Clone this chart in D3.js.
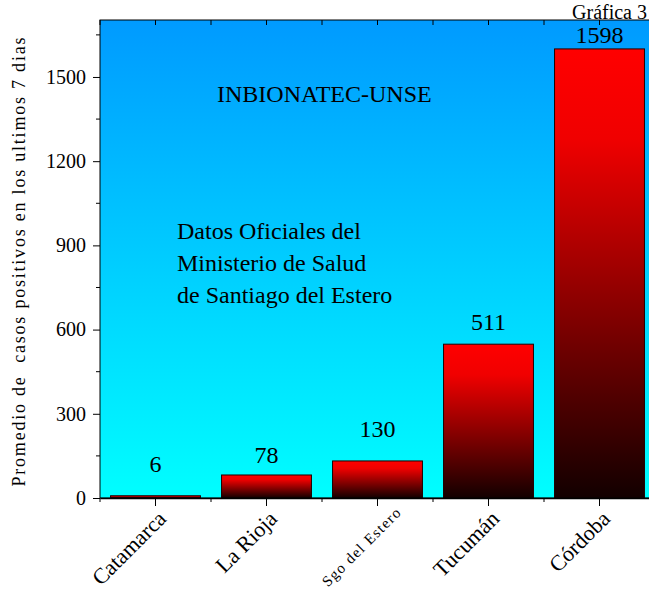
<!DOCTYPE html>
<meta charset="utf-8">
<style>
  body { margin: 0; background: white; }
  svg text { font-family: "Liberation Serif", "Times New Roman", serif; fill: black; }
  .axis path, .axis line { stroke: black; }
</style>
<script src="https://d3js.org/d3.v7.min.js"></script>
<div id="chart"></div>
<script>
// data
const provinces = ["Catamarca", "La Rioja", "Sgo del Estero", "Tucumán", "Córdoba"];
const barValues = [8, 82, 132, 548, 1600];
const valueLabels = ["6", "78", "130", "511", "1598"];
const labelAt = [93, 125, 217, 598, 1621];   // where each number sits, in data units
const yTicks = [0, 300, 600, 900, 1200, 1500];

const W = 649, H = 592;
const plotL = 100, plotR = 655, plotT = 20, plotB = 498;
const serif = "Liberation Serif, Times New Roman, serif";

const svg = d3.select("#chart").append("svg")
    .attr("width", W).attr("height", H);

const defs = svg.append("defs");
const bg = defs.append("linearGradient").attr("id", "bg")
    .attr("x1", 0).attr("y1", 0).attr("x2", 0).attr("y2", 1);
bg.append("stop").attr("offset", "0%").attr("stop-color", "#009aff");
bg.append("stop").attr("offset", "100%").attr("stop-color", "#00ffff");

const barGrad = defs.append("linearGradient").attr("id", "bargrad")
    .attr("x1", 0).attr("y1", 0).attr("x2", 0).attr("y2", 1);
barGrad.append("stop").attr("offset", "0%").attr("stop-color", "#ff0000");
barGrad.append("stop").attr("offset", "20%").attr("stop-color", "#f00000");
barGrad.append("stop").attr("offset", "100%").attr("stop-color", "#120000");

const x = d3.scaleBand()
    .domain(provinces)
    .range([plotL, plotR])
    .paddingInner(0.19)
    .paddingOuter(0.095);

const y = d3.scaleLinear()
    .domain([0, 1703])
    .range([plotB, plotT]);

// plot background
svg.append("rect")
    .attr("x", plotL).attr("y", plotT)
    .attr("width", plotR - plotL).attr("height", plotB - plotT)
    .attr("fill", "url(#bg)");

// bars
svg.append("g").selectAll("rect")
  .data(provinces)
  .join("rect")
    .attr("x", d => x(d))
    .attr("y", (d, i) => y(barValues[i]))
    .attr("width", x.bandwidth())
    .attr("height", (d, i) => y(0) - y(barValues[i]))
    .attr("fill", "url(#bargrad)")
    .attr("stroke", "#200000")
    .attr("stroke-width", 1);

// value labels
svg.append("g").selectAll("text")
  .data(provinces)
  .join("text")
    .attr("x", d => x(d) + x.bandwidth() / 2)
    .attr("y", (d, i) => y(labelAt[i]))
    .attr("text-anchor", "middle")
    .style("font-family", serif)
    .style("font-size", "24px")
    .text((d, i) => valueLabels[i]);

// frame
svg.append("rect")
    .attr("x", plotL).attr("y", plotT)
    .attr("width", plotR - plotL).attr("height", plotB - plotT)
    .attr("fill", "none").attr("stroke", "black").attr("stroke-width", 1);

// y axis
const yAxis = svg.append("g")
    .attr("class", "axis")
    .attr("transform", `translate(${plotL},0)`)
    .call(d3.axisLeft(y).tickValues(yTicks).tickFormat(d3.format("d"))
        .tickSize(7).tickPadding(7).tickSizeOuter(0));
yAxis.select(".domain").remove();
yAxis.selectAll("text").style("font-size", "20px").style("font-family", serif);
// minor y ticks
svg.append("g").selectAll("line")
  .data(yTicks.map(v => v + 150))
  .join("line")
    .attr("x1", plotL - 4).attr("x2", plotL)
    .attr("y1", d => y(d)).attr("y2", d => y(d))
    .attr("stroke", "black");

// x axis
const centers = provinces.map(p => x(p) + x.bandwidth() / 2);
const edges = [plotL].concat(provinces.map(p => x(p) + x.bandwidth() / 2 + x.step() / 2));

const xAxis = svg.append("g")
    .attr("class", "axis")
    .attr("transform", `translate(0,${plotB})`)
    .call(d3.axisBottom(x).tickSize(8).tickSizeOuter(0).tickFormat(""));
xAxis.select(".domain").attr("stroke-width", 1.5);

svg.append("g").selectAll("line")
  .data(edges)
  .join("line")
    .attr("x1", d => d).attr("x2", d => d)
    .attr("y1", plotB).attr("y2", plotB + 4)
    .attr("stroke", "black");

// top mirror ticks (inward)
svg.append("g").selectAll("line")
  .data(centers.concat(edges))
  .join("line")
    .attr("x1", d => d).attr("x2", d => d)
    .attr("y1", plotT).attr("y2", plotT + 5)
    .attr("stroke", "black");

// rotated category labels (the small one sits a bit further right)
svg.append("g").selectAll("text")
  .data(provinces)
  .join("text")
    .attr("transform", d => {
      const small = d === "Sgo del Estero";
      const cx = x(d) + x.bandwidth() / 2 + (small ? 24 : 12);
      return `translate(${cx},${plotB + (small ? 16 : 22)}) rotate(-45)`;
    })
    .attr("text-anchor", "end")
    .style("font-family", serif)
    .style("font-size", d => d === "Sgo del Estero" ? "15px" : "22px")
    .each(function(d) {
      if (d === "Sgo del Estero") d3.select(this).attr("textLength", 104).attr("lengthAdjust", "spacing");
    })
    .text(d => d);

// y axis title
svg.append("text")
    .attr("transform", `translate(25,262) rotate(-90)`)
    .attr("text-anchor", "middle")
    .attr("textLength", 449)
    .attr("lengthAdjust", "spacing")
    .style("font-family", serif)
    .style("font-size", "18px")
    .style("white-space", "pre")
    .text("Promedio de  casos positivos en los ultimos 7 dias");

// annotations
svg.append("text")
    .attr("x", 217).attr("y", 102)
    .style("font-family", serif)
    .style("font-size", "24px")
    .text("INBIONATEC-UNSE");

const notes = ["Datos Oficiales del", "Ministerio de Salud", "de Santiago del Estero"];
svg.append("g").selectAll("text")
  .data(notes)
  .join("text")
    .attr("x", 177)
    .attr("y", (d, i) => 239 + i * 32)
    .style("font-family", serif)
    .style("font-size", "24px")
    .text(d => d);

svg.append("text")
    .attr("x", 647).attr("y", 19)
    .attr("text-anchor", "end")
    .style("font-family", serif)
    .style("font-size", "20px")
    .text("Gráfica 3");
</script>
